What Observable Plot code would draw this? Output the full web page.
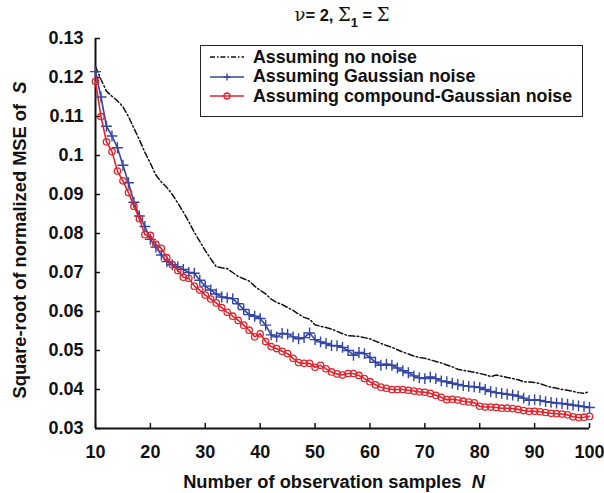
<!DOCTYPE html>
<html>
<head>
<meta charset="utf-8">
<script src="https://cdn.jsdelivr.net/npm/d3@7"></script>
<script src="https://cdn.jsdelivr.net/npm/@observablehq/plot@0.6"></script>
<style>
  html, body { margin: 0; padding: 0; background: #fff; }
  body { font-family: "Liberation Sans", Arial, sans-serif; }
  #wrap { position: relative; width: 604px; height: 493px; overflow: hidden; }
  .ov { position: absolute; font-weight: bold; color: #111; white-space: nowrap; }
  .serif { font-family: "DejaVu Serif", "Liberation Serif", serif; font-weight: normal; }
  #legend { position: absolute; left: 200px; top: 45px; width: 381px; height: 70px; border: 1.5px solid #222; background: #fff; }
  .lrow { position: absolute; left: 8px; height: 20px; display: flex; align-items: center; font-weight: bold; font-size: 17.8px; color: #111; }
  .lrow svg { margin-right: 8px; }
</style>
</head>
<body>
<div id="wrap"></div>
<script>
const N = d3.range(10, 101);
const noNoise = [
 .1228,.1195,.1165,.1152,.1140,.1125,.1100,.1070,.1040,.1008,
 .0980,.0950,.0932,.0918,.0900,.0878,.0855,.0830,.0803,.0780,
 .0756,.0735,.0715,.0712,.0710,.0700,.0690,.0684,.0678,.0665,
 .0654,.0645,.0632,.0623,.0618,.0610,.0603,.0593,.0585,.0580,
 .0566,.0562,.0559,.0555,.0549,.0543,.0538,.0537,.0536,.0533,
 .0530,.0524,.0518,.0513,.0508,.0502,.0496,.0491,.0486,.0482,
 .0480,.0476,.0472,.0468,.0463,.0458,.0452,.0449,.0447,.0444,
 .0441,.0438,.0433,.0437,.0434,.0431,.0428,.0425,.0420,.0419,
 .0418,.0415,.0410,.0406,.0403,.0400,.0398,.0395,.0392,.0390,
 .0395];
const gaussian = [
 .1215,.1150,.1075,.1050,.1020,.0975,.0930,.0880,.0845,.0818,
 .0785,.0765,.0745,.0728,.0720,.0715,.0708,.0700,.0698,.0680,
 .0665,.0655,.0645,.0637,.0635,.0633,.0620,.0605,.0592,.0588,
 .0582,.0565,.0540,.0535,.0544,.0542,.0535,.0530,.0533,.0545,
 .0528,.0522,.0518,.0513,.0512,.0508,.0500,.0488,.0495,.0492,
 .0482,.0470,.0462,.0465,.0462,.0455,.0448,.0443,.0435,.0430,
 .0428,.0432,.0428,.0422,.0420,.0416,.0413,.0410,.0408,.0407,
 .0405,.0400,.0395,.0392,.0390,.0388,.0386,.0383,.0378,.0372,
 .0374,.0372,.0369,.0367,.0365,.0364,.0362,.0360,.0358,.0356,
 .0354];
const compound = [
 .1190,.1100,.1035,.1010,.0960,.0935,.0905,.0870,.0838,.0797,
 .0795,.0772,.0762,.0738,.0720,.0705,.0688,.0685,.0665,.0655,
 .0642,.0632,.0622,.0610,.0598,.0588,.0577,.0565,.0552,.0535,
 .0543,.0523,.0510,.0505,.0498,.0492,.0480,.0469,.0467,.0467,
 .0457,.0462,.0453,.0445,.0440,.0437,.0441,.0441,.0436,.0428,
 .0420,.0412,.0406,.0403,.0400,.0400,.0400,.0398,.0396,.0394,
 .0393,.0390,.0385,.0380,.0374,.0375,.0373,.0370,.0368,.0366,
 .0357,.0355,.0355,.0354,.0352,.0352,.0351,.0349,.0346,.0344,
 .0344,.0343,.0341,.0339,.0338,.0337,.0335,.0330,.0328,.0329,
 .0331];
const xTicks = [10, 20, 30, 40, 50, 60, 70, 80, 90, 100];
const yTicks = [0.03, 0.04, 0.05, 0.06, 0.07, 0.08, 0.09, 0.1, 0.11, 0.12, 0.13];
const seriesNames = ["Assuming no noise", "Assuming Gaussian noise", "Assuming compound-Gaussian noise"];
const colors = ["#111111", "#3346a6", "#e3232b"];

const toRows = vals => N.map((n, i) => ({n, v: vals[i]}));
const rNo = toRows(noNoise), rG = toRows(gaussian), rC = toRows(compound);

const chart = Plot.plot({
  width: 604,
  height: 493,
  marginLeft: 95,
  marginRight: 15,
  marginTop: 38,
  marginBottom: 65,
  style: {fontFamily: "'Liberation Sans', Arial, sans-serif", fontWeight: "bold", fontSize: "18px", color: "#111", background: "#fff"},
  x: {domain: [10, 100]},
  y: {domain: [0.03, 0.13]},
  marks: [
    Plot.axisX(xTicks, {tickSize: -5, tickPadding: 22, tickFormat: d => String(d), label: null, fontSize: 18, fontWeight: "bold", strokeWidth: 1.5}),
    Plot.axisY(yTicks, {tickSize: -5, tickPadding: 17, tickFormat: d => String(+d.toFixed(2)), label: null, fontSize: 18, fontWeight: "bold", strokeWidth: 1.5}),
    Plot.ruleY([0.03], {stroke: "#111", strokeWidth: 2}),
    Plot.ruleX([10], {stroke: "#111", strokeWidth: 2}),
    Plot.line(rNo, {x: "n", y: "v", stroke: colors[0], strokeWidth: 1.5, strokeDasharray: "6,2.5,1.5,2.5"}),
    Plot.line(rG, {x: "n", y: "v", stroke: colors[1], strokeWidth: 1.6}),
    Plot.dot(rG, {x: "n", y: "v", symbol: "plus", r: 3.6, stroke: colors[1], strokeWidth: 1.4}),
    Plot.line(rC, {x: "n", y: "v", stroke: colors[2], strokeWidth: 1.6}),
    Plot.dot(rC, {x: "n", y: "v", symbol: "circle", r: 3.2, stroke: colors[2], fill: "none", strokeWidth: 1.3})
  ]
});

const wrap = document.getElementById("wrap");
wrap.appendChild(chart);

function addDiv(html, style, cls) {
  const d = document.createElement("div");
  d.className = cls || "ov";
  d.innerHTML = html;
  Object.assign(d.style, style);
  wrap.appendChild(d);
  return d;
}
// Title
addDiv('<span class="serif" style="font-size:18px">ν</span>= 2, <span class="serif" style="font-size:18px">Σ</span><sub style="font-size:13px;position:relative;top:2px">1</sub> = <span class="serif" style="font-size:18px">Σ</span>',
  {left: "342px", top: "4px", fontSize: "16.5px", transform: "translateX(-50%)"});
// X label
addDiv('Number of observation samples&nbsp; <i>N</i>', {left: "334px", top: "471px", fontSize: "18.3px", transform: "translateX(-50%)"});
// Y label
addDiv('Square-root of normalized MSE of&nbsp; <i>S</i>', {left: "20px", top: "240px", fontSize: "18.3px", transform: "translate(-50%,-50%) rotate(-90deg)", transformOrigin: "center"});

// Legend
const leg = document.createElement("div");
leg.id = "legend";
wrap.appendChild(leg);
const sampleSvg = i => {
  let s = `<svg width="36" height="12" viewBox="0 0 36 12">`;
  if (i === 0) s += `<line x1="1" y1="6" x2="35" y2="6" stroke="${colors[0]}" stroke-width="1.5" stroke-dasharray="5,2,1.5,2"/>`;
  else s += `<line x1="1" y1="6" x2="35" y2="6" stroke="${colors[i]}" stroke-width="1.6"/>`;
  if (i === 1) s += `<path d="M18,2.5v7M14.5,6h7" stroke="${colors[1]}" stroke-width="1.4"/>`;
  if (i === 2) s += `<circle cx="18" cy="6" r="3" fill="none" stroke="${colors[2]}" stroke-width="1.3"/>`;
  return s + `</svg>`;
};
seriesNames.forEach((name, i) => {
  const r = document.createElement("div");
  r.className = "lrow";
  r.style.top = (1 + i * 19.5) + "px";
  r.innerHTML = sampleSvg(i) + `<span>${name}</span>`;
  leg.appendChild(r);
});
</script>
</body>
</html>
